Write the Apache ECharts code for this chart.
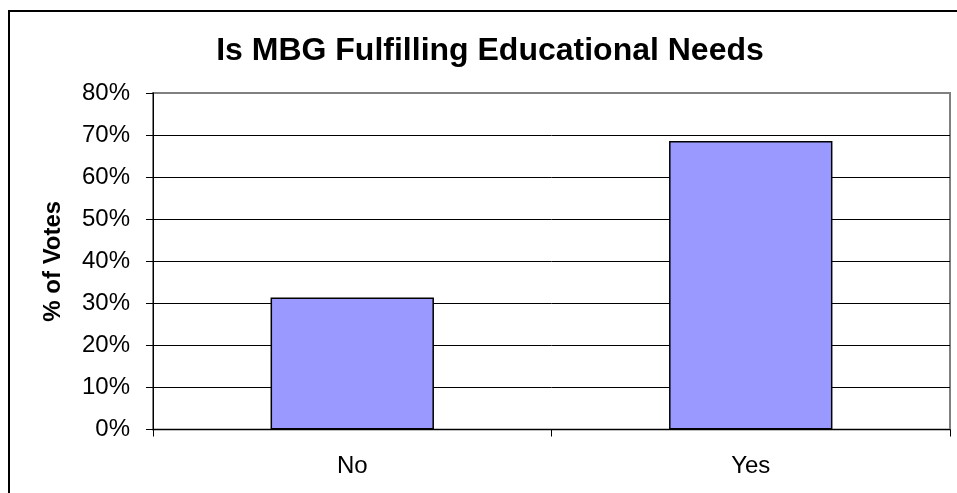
<!DOCTYPE html>
<html>
<head>
<meta charset="utf-8">
<script src="https://cdn.jsdelivr.net/npm/echarts@6/dist/echarts.min.js"></script>
<style>
  html, body { margin: 0; padding: 0; background: #fff; }
  #chart { width: 957px; height: 493px; }
</style>
</head>
<body>
<div id="chart"></div>
<script>
// Survey answers and their share of votes (percent)
const categories = ['No', 'Yes'];
const voteShare = [31.4, 68.6];
const yTicks = [0, 10, 20, 30, 40, 50, 60, 70, 80];

const FONT = "'Liberation Sans', Arial, sans-serif";

const chart = echarts.init(document.getElementById('chart'), null, { renderer: 'canvas' });

chart.setOption({
  animation: false,
  backgroundColor: '#ffffff',
  title: {
    text: 'Is MBG Fulfilling Educational Needs',
    left: 485,
    top: 30,
    textAlign: 'center',
    textStyle: { fontFamily: FONT, fontSize: 32, fontWeight: 'bold', color: '#000' }
  },
  graphic: [{
    type: 'rect',
    left: 8, top: 10,
    shape: { width: 1000, height: 600 },
    style: { fill: 'transparent', stroke: '#000', lineWidth: 2 },
    z: -1
  }],
  grid: {
    left: 153, right: 7, top: 93, bottom: 63.5,
    show: true,
    borderColor: '#808080',
    borderWidth: 2,
    backgroundColor: '#fff'
  },
  xAxis: {
    type: 'category',
    data: categories,
    axisLine: { lineStyle: { color: '#000', width: 1 } },
    axisTick: { show: true, length: 7, lineStyle: { color: '#000' } },
    axisLabel: { fontFamily: FONT, fontSize: 24, color: '#000', margin: 25 }
  },
  yAxis: {
    type: 'value',
    min: yTicks[0],
    max: yTicks[yTicks.length - 1],
    interval: yTicks[1] - yTicks[0],
    name: '% of Votes',
    nameLocation: 'middle',
    nameGap: 88,
    nameTextStyle: { fontFamily: FONT, fontSize: 24, fontWeight: 'bold', color: '#000' },
    axisLine: { show: true, lineStyle: { color: '#000', width: 1 } },
    axisTick: { show: true, length: 7, lineStyle: { color: '#000' } },
    axisLabel: { fontFamily: FONT, fontSize: 24, color: '#000', margin: 23, formatter: '{value}%' },
    splitLine: { show: true, showMaxLine: false, lineStyle: { color: '#000', width: 1 } }
  },
  series: [{
    type: 'bar',
    data: voteShare,
    barWidth: '41%',
    itemStyle: { color: '#9999ff', borderColor: '#000', borderWidth: 1.5 }
  }]
});
</script>
</body>
</html>
